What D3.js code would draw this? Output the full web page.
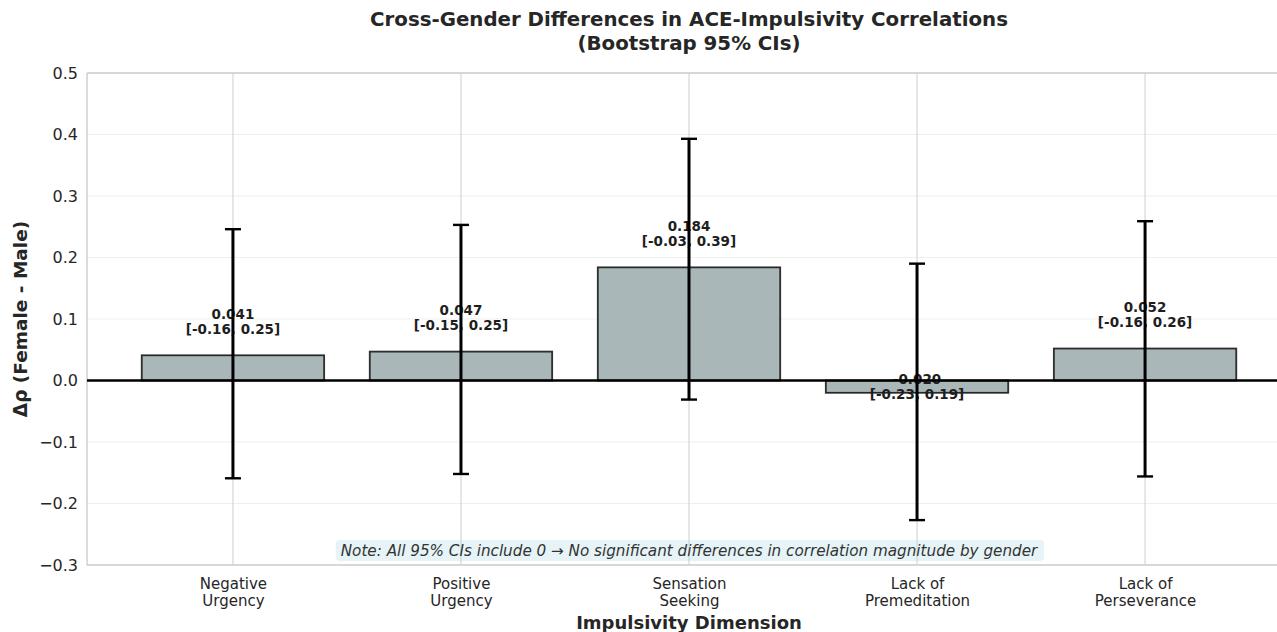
<!DOCTYPE html>
<html>
<head>
<meta charset="utf-8">
<script src="https://cdn.jsdelivr.net/npm/d3@7"></script>
<style>
  html, body { margin: 0; padding: 0; background: #ffffff; }
  svg { display: block; font-family: "DejaVu Sans", sans-serif; }
</style>
</head>
<body>
<svg id="chart" width="1277" height="632"></svg>
<script>
// Impulsivity dimensions (tick labels, two lines each)
const categories = [
  "Negative\nUrgency",
  "Positive\nUrgency",
  "Sensation\nSeeking",
  "Lack of\nPremeditation",
  "Lack of\nPerseverance"
];
// Female − male difference in ACE–impulsivity correlation
const deltaRho = [0.041, 0.047, 0.184, -0.020, 0.052];
// Bootstrap 95% confidence bounds
const ciLower = [-0.159, -0.152, -0.031, -0.227, -0.156];
const ciUpper = [0.246, 0.253, 0.393, 0.190, 0.259];
const yTicks = [-0.3, -0.2, -0.1, 0.0, 0.1, 0.2, 0.3, 0.4, 0.5];

const titleLines = ["Cross-Gender Differences in ACE-Impulsivity Correlations", "(Bootstrap 95% CIs)"];
const noteText = "Note: All 95% CIs include 0 \u2192 No significant differences in correlation magnitude by gender";

// plain hyphen-minus for the annotation numbers
const hyphenLocale = d3.formatLocale({ decimal: ".", thousands: ",", grouping: [3], currency: ["", ""], minus: "-" });
const f3 = hyphenLocale.format(".3f");
const f2 = hyphenLocale.format(".2f");

const svg = d3.select("#chart");
const plot = { left: 87, right: 1291, top: 73, bottom: 565 };

const x = d3.scalePoint()
  .domain(d3.range(categories.length))
  .range([plot.left, plot.right])
  .padding(0.64);
const barW = x.step() * 0.8;

const y = d3.scaleLinear()
  .domain([-0.3, 0.5])
  .range([plot.bottom, plot.top]);

// horizontal grid (faint)
svg.append("g")
  .selectAll("line")
  .data(yTicks)
  .join("line")
  .attr("x1", plot.left).attr("x2", plot.right)
  .attr("y1", d => y(d)).attr("y2", d => y(d))
  .attr("stroke", "#efefef").attr("stroke-width", 1.2);

// vertical grid at category centres
svg.append("g")
  .selectAll("line")
  .data(d3.range(categories.length))
  .join("line")
  .attr("x1", d => x(d)).attr("x2", d => x(d))
  .attr("y1", plot.top).attr("y2", plot.bottom)
  .attr("stroke", "#d6d6d6").attr("stroke-width", 1.2);

// spines
const spine = svg.append("g").attr("stroke", "#cccccc").attr("stroke-width", 1.4);
spine.append("line").attr("x1", plot.left).attr("x2", plot.right).attr("y1", plot.top).attr("y2", plot.top);
spine.append("line").attr("x1", plot.left).attr("x2", plot.right).attr("y1", plot.bottom).attr("y2", plot.bottom);
spine.append("line").attr("x1", plot.left).attr("x2", plot.left).attr("y1", plot.top).attr("y2", plot.bottom);

// y axis tick labels
const yAxis = d3.axisLeft(y)
  .tickValues(yTicks)
  .tickSize(0)
  .tickPadding(9)
  .tickFormat(d3.format(".1f"));
const yG = svg.append("g").attr("transform", `translate(${plot.left},0)`).call(yAxis);
yG.select(".domain").remove();
yG.selectAll("text")
  .attr("font-size", 16)
  .attr("fill", "#262626")
  .attr("font-family", "DejaVu Sans, sans-serif");

// x axis tick labels (two lines)
const xAxis = d3.axisBottom(x).tickSize(0).tickFormat("");
const xG = svg.append("g").attr("transform", `translate(0,${plot.bottom})`).call(xAxis);
xG.select(".domain").remove();
xG.selectAll(".tick").each(function(d) {
  const t = d3.select(this).append("text")
    .attr("text-anchor", "middle")
    .attr("font-size", 15)
    .attr("fill", "#262626")
    .attr("font-family", "DejaVu Sans, sans-serif");
  categories[d].split("\n").forEach((line, i) => {
    t.append("tspan").attr("x", 0).attr("y", 24 + i * 17).text(line);
  });
});

// bars
svg.append("g")
  .selectAll("rect")
  .data(deltaRho)
  .join("rect")
  .attr("x", (d, i) => x(i) - barW / 2)
  .attr("width", barW)
  .attr("y", d => y(Math.max(0, d)))
  .attr("height", d => Math.abs(y(d) - y(0)))
  .attr("fill", "#95a5a6").attr("fill-opacity", 0.8)
  .attr("stroke", "#000000").attr("stroke-opacity", 0.8).attr("stroke-width", 1.8);

// value + CI labels
const lineH = 15;
const labels = svg.append("g")
  .attr("font-size", 13.5)
  .attr("font-weight", "bold")
  .attr("fill", "#1e1e1e")
  .attr("text-anchor", "middle");
deltaRho.forEach((v, i) => {
  const lines = [f3(v), `[${f2(ciLower[i])}, ${f2(ciUpper[i])}]`];
  const anchorY = y(v + 0.03);
  // block sits above the anchor for positive bars, below it for negative bars
  const firstBase = v >= 0 ? anchorY - lineH - 3 : anchorY + 10;
  const t = labels.append("text");
  lines.forEach((s, k) => {
    t.append("tspan").attr("x", x(i)).attr("y", firstBase + k * lineH).text(s);
  });
});

// error bars
const eb = svg.append("g").attr("stroke", "#000000").attr("stroke-width", 3);
const cap = 8;
deltaRho.forEach((v, i) => {
  eb.append("line").attr("x1", x(i)).attr("x2", x(i)).attr("y1", y(ciLower[i])).attr("y2", y(ciUpper[i]));
  eb.append("line").attr("x1", x(i) - cap).attr("x2", x(i) + cap).attr("y1", y(ciLower[i])).attr("y2", y(ciLower[i])).attr("stroke-width", 2.4);
  eb.append("line").attr("x1", x(i) - cap).attr("x2", x(i) + cap).attr("y1", y(ciUpper[i])).attr("y2", y(ciUpper[i])).attr("stroke-width", 2.4);
});

// zero reference line
svg.append("line")
  .attr("x1", plot.left).attr("x2", plot.right)
  .attr("y1", y(0)).attr("y2", y(0))
  .attr("stroke", "#000000").attr("stroke-width", 2.6);

// note box
const cx = (plot.left + plot.right) / 2;
const note = svg.append("g");
const noteT = note.append("text")
  .attr("x", cx).attr("y", 555.5)
  .attr("text-anchor", "middle")
  .attr("font-size", 15.2)
  .attr("font-style", "italic")
  .attr("fill", "#333333")
  .text(noteText);
const bb = noteT.node().getBBox();
note.insert("rect", "text")
  .attr("x", bb.x - 5).attr("y", bb.y - 1.5)
  .attr("width", bb.width + 10).attr("height", bb.height + 3)
  .attr("rx", 4)
  .attr("fill", "#add8e6").attr("fill-opacity", 0.3);

// title
const title = svg.append("text")
  .attr("text-anchor", "middle")
  .attr("font-size", 19.8)
  .attr("font-weight", "bold")
  .attr("fill", "#262626");
titleLines.forEach((s, i) => {
  title.append("tspan").attr("x", cx).attr("y", 26 + i * 24).text(s);
});

// axis titles
svg.append("text")
  .attr("x", cx).attr("y", 629)
  .attr("text-anchor", "middle")
  .attr("font-size", 18)
  .attr("font-weight", "bold")
  .attr("fill", "#262626")
  .text("Impulsivity Dimension");

svg.append("text")
  .attr("transform", `translate(27,${(plot.top + plot.bottom) / 2}) rotate(-90)`)
  .attr("text-anchor", "middle")
  .attr("font-size", 18.5)
  .attr("font-weight", "bold")
  .attr("fill", "#262626")
  .text("\u0394\u03c1 (Female - Male)");
</script>
</body>
</html>
